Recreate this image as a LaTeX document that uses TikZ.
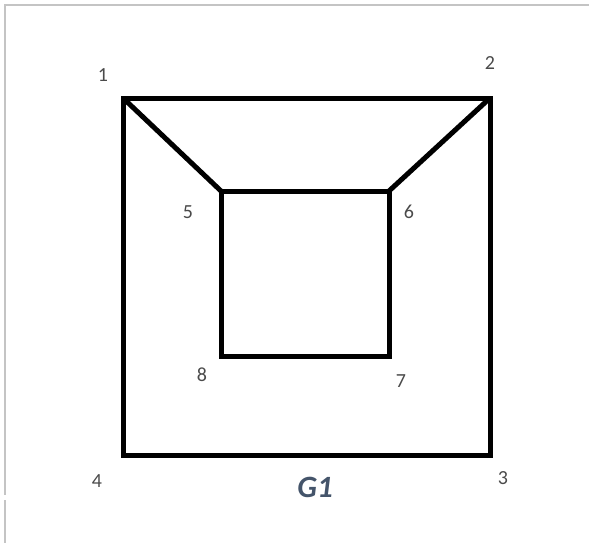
\documentclass[tikz,border=0pt]{standalone}
\usepackage{fontspec}
\setmainfont{Carlito}
\usepackage{xcolor}
\definecolor{numgray}{HTML}{4A4A4A}
\definecolor{titleblue}{HTML}{44546A}
\definecolor{framegray}{HTML}{C4C4C4}
\tikzset{
  edge/.style={line width=5pt, line join=miter, line cap=rect},
  diag/.style={line width=5pt, line cap=butt},
  vlabel/.style={text=numgray, font=\fontsize{20}{20}\selectfont, inner sep=0pt}
}

\begin{document}
\begin{tikzpicture}[x=1pt,y=-1pt]
\useasboundingbox (0,0) rectangle (589,543);
\draw[framegray, line width=1.2pt] (589,5) -- (5,5) -- (5,495);
\draw[framegray, line width=1.2pt] (5,500) -- (5,543);
\foreach \n/\x/\y in {1/123/98,2/490/98,3/490/455,4/123/455,5/221/191,6/389/191,7/389/356,8/221/356}
  \coordinate (v\n) at (\x,\y);
\foreach \n/\x/\y in {1/103/75,2/490/63,3/503/478,4/97/481,5/188/212,6/409/212,7/401/381,8/202/375}
  \node[vlabel] (l\n) at (\x,\y) {\n};
\draw[diag] (v1) -- (v5);
\draw[diag] (v2) -- (v6);
\draw[edge] (v1) -- (v2) -- (v3) -- (v4) -- cycle;
\draw[edge] (v5) -- (v6) -- (v7) -- (v8) -- cycle;
\node[text=titleblue, font=\fontsize{31}{31}\selectfont\bfseries\itshape, inner sep=0pt] (title) at (315,487) {G1};
\end{tikzpicture}
\end{document}
